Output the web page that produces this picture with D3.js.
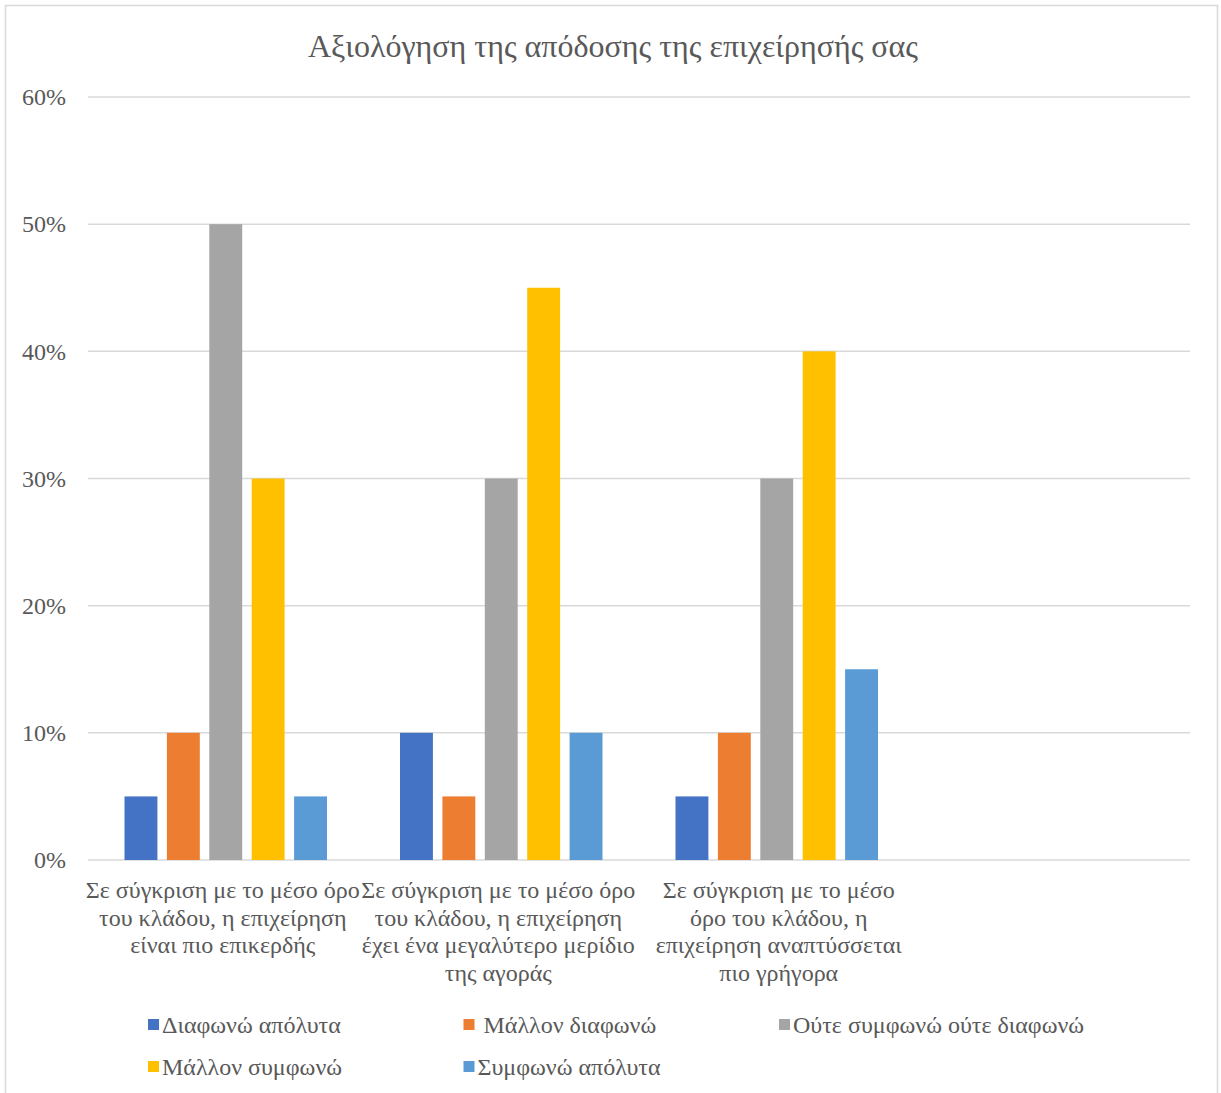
<!DOCTYPE html>
<html><head><meta charset="utf-8">
<script src="https://cdn.jsdelivr.net/npm/d3@7"></script>
<style>
html,body{margin:0;padding:0;background:#fff;}
text{font-family:"Liberation Serif","Times New Roman",serif;fill:#595959;}
</style></head>
<body><svg id="c" width="1221" height="1093"></svg>
<script>
const title = "Αξιολόγηση της απόδοσης της επιχείρησής σας";
const categories = [
  "Σε σύγκριση με το μέσο όρο\nτου κλάδου, η επιχείρηση\nείναι πιο επικερδής",
  "Σε σύγκριση με το μέσο όρο\nτου κλάδου, η επιχείρηση\nέχει ένα μεγαλύτερο μερίδιο\nτης αγοράς",
  "Σε σύγκριση με το μέσο\nόρο του κλάδου, η\nεπιχείρηση αναπτύσσεται\nπιο γρήγορα",
  ""
];
const seriesNames = ["Διαφωνώ απόλυτα", " Μάλλον διαφωνώ", "Ούτε συμφωνώ ούτε διαφωνώ", "Μάλλον συμφωνώ", "Συμφωνώ απόλυτα"];
const seriesColors = ["#4472C4", "#ED7D31", "#A5A5A5", "#FFC000", "#5B9BD5"];
const diafonoApolyta   = [0.05, 0.10, 0.05];
const mallonDiafono    = [0.10, 0.05, 0.10];
const outeOute         = [0.50, 0.30, 0.30];
const mallonSymfono    = [0.30, 0.45, 0.40];
const symfonoApolyta   = [0.05, 0.10, 0.15];
const yTicks = [0, 0.1, 0.2, 0.3, 0.4, 0.5, 0.6];

const series = [diafonoApolyta, mallonDiafono, outeOute, mallonSymfono, symfonoApolyta];

const svg = d3.select("#c");
svg.append("rect").attr("x",5.5).attr("y",5.5).attr("width",1212).attr("height",1100)
  .attr("fill","#fff").attr("stroke","#d9d9d9").attr("stroke-width",1.5);

svg.append("text").attr("x",613).attr("y",57).attr("text-anchor","middle")
  .style("font-size","32px").text(title);

const x0 = d3.scaleBand().domain(d3.range(categories.length)).range([88,1190]).paddingInner(0).paddingOuter(0);
const x1 = d3.scaleBand().domain(d3.range(series.length)).range([36.5, x0.bandwidth()-36.5]).paddingInner(0.224).paddingOuter(0);
const y = d3.scaleLinear().domain([0,0.6]).range([860,97]);

svg.append("g").selectAll("line").data(yTicks).join("line")
  .attr("x1",88).attr("x2",1190).attr("y1",d=>y(d)).attr("y2",d=>y(d))
  .attr("stroke","#d9d9d9").attr("stroke-width",1.5);

const yAxis = d3.axisLeft(y).tickValues(yTicks).tickFormat(d3.format(".0%")).tickSize(0).tickPadding(0);
const ya = svg.append("g").attr("transform","translate(66,0)").call(yAxis);
ya.select(".domain").remove();
ya.selectAll("text").style("font-size","24px").attr("fill","#595959").style("font-family","Liberation Serif");

const g = svg.append("g");
series.forEach((vals, si) => {
  g.append("g").selectAll("rect").data(vals).join("rect")
    .attr("x",(d,i)=>x0(i)+x1(si))
    .attr("width",x1.bandwidth())
    .attr("y",d=>y(d))
    .attr("height",d=>y(0)-y(d))
    .attr("fill",seriesColors[si]);
});

const labelShift = [-3, -3, 2];
categories.forEach((c,i)=>{
  if(!c) return;
  const t = svg.append("text").attr("text-anchor","middle").style("font-size","24px");
  c.split("\n").forEach((ln,k)=>{
    t.append("tspan").attr("x",x0(i)+x0.bandwidth()/2 + labelShift[i]).attr("y",898 + k*27.5).text(ln);
  });
});

const legCols = 3, legX0 = 148, legDx = 315.5, legY0 = 1025, legDy = 42;
seriesNames.forEach((n,i)=>{
  const cx = legX0 + (i%legCols)*legDx, cy = legY0 + Math.floor(i/legCols)*legDy;
  svg.append("rect").attr("x",cx).attr("y",cy-6).attr("width",11).attr("height",11).attr("fill",seriesColors[i]);
  svg.append("text").attr("x",cx+14).attr("y",cy+8).style("font-size","24px").style("white-space","pre").text(n);
});
</script></body></html>
